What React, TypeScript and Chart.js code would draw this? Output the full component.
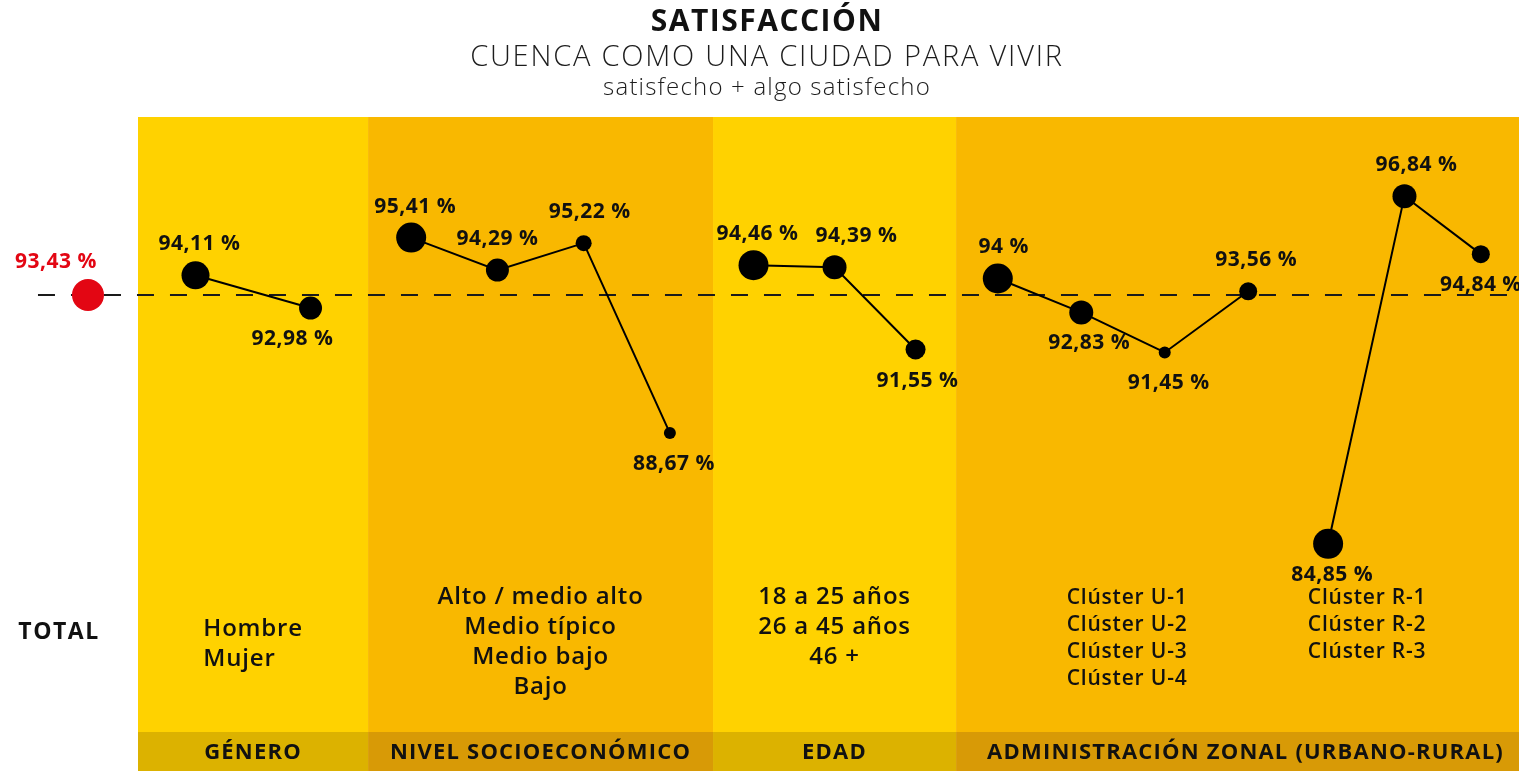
import React, { useEffect, useRef } from "react";
import { Chart, registerables } from "chart.js";

Chart.register(...registerables);

// ---------- DATA ----------
const TITLE = "SATISFACCIÓN";
const SUBTITLE = "CUENCA COMO UNA CIUDAD PARA VIVIR";
const SUBSUBTITLE = "satisfecho + algo satisfecho";

const TOTAL_LABEL = "TOTAL";
const TOTAL_VALUE = 93.43;

const GENERO_LABELS = ["Hombre", "Mujer"];
const GENERO_VALUES = [94.11, 92.98];

const NSE_LABELS = ["Alto / medio alto", "Medio típico", "Medio bajo", "Bajo"];
const NSE_VALUES = [95.41, 94.29, 95.22, 88.67];

const EDAD_LABELS = ["18 a 25 años", "26 a 45 años", "46 +"];
const EDAD_VALUES = [94.46, 94.39, 91.55];

const URBANO_LABELS = ["Clúster U-1", "Clúster U-2", "Clúster U-3", "Clúster U-4"];
const URBANO_VALUES = [94, 92.83, 91.45, 93.56];

const RURAL_LABELS = ["Clúster R-1", "Clúster R-2", "Clúster R-3"];
const RURAL_VALUES = [84.85, 96.84, 94.84];

const GROUP_TITLES = ["GÉNERO", "NIVEL SOCIOECONÓMICO", "EDAD", "ADMINISTRACIÓN ZONAL (URBANO-RURAL)"];

// ---------- STYLE / LAYOUT ----------
const W = 1519;
const H = 771;
const FONT = "'Open Sans', 'Noto Sans', sans-serif";
const BAND_LIGHT = "#FFD200";
const BAND_DARK = "#F9B800";
const FOOT_LIGHT = "#DCB200";
const FOOT_DARK = "#D89A06";
const RED = "#E30613";
const INK = "#111111";

// x-scale runs 0..100 (percent of the width)
const TOTAL_SPAN = [2.5, 9.085];
const GROUP_SPANS = [
  [9.085, 24.23],
  [24.23, 46.94],
  [46.94, 62.94],
  [62.94, 100],
];
const FOOT_COLORS = [FOOT_LIGHT, FOOT_DARK, FOOT_LIGHT, FOOT_DARK];
const BAND_COLORS = [BAND_LIGHT, BAND_DARK, BAND_LIGHT, BAND_DARK];

const fmt = (v: number) => String(v).replace(".", ",") + " %";

type Series = {
  values: number[];
  span: number[];
  radii: number[];
  pos: string[];
  dx: number[];
};

const SERIES: Series[] = [
  { values: GENERO_VALUES, span: [9.085, 24.23], radii: [14, 11.5], pos: ["top", "bottom"], dx: [4, -18] },
  { values: NSE_VALUES, span: [24.23, 46.94], radii: [15, 11.5, 8, 6], pos: ["top", "top", "top", "bottom"], dx: [4, 0, 6, 4] },
  { values: EDAD_VALUES, span: [46.94, 62.94], radii: [15, 12, 10], pos: ["top", "top", "bottom"], dx: [4, 22, 2] },
  { values: URBANO_VALUES, span: [62.94, 84.92], radii: [15, 12, 6, 9], pos: ["top", "bottom", "bottom", "top"], dx: [6, 8, 4, 8] },
  { values: RURAL_VALUES, span: [84.92, 100], radii: [15, 12, 9], pos: ["bottom", "top", "bottom"], dx: [4, 12, 0] },
];

const CATEGORY_BLOCKS = [
  { labels: GENERO_LABELS, center: 16.66, top: 629, gap: 30, size: 24, blockLeft: true },
  { labels: NSE_LABELS, center: 35.585, top: 597, gap: 30, size: 24, blockLeft: false },
  { labels: EDAD_LABELS, center: 54.94, top: 597, gap: 30, size: 24, blockLeft: false },
  { labels: URBANO_LABELS, center: 74.2, top: 598, gap: 27, size: 21, blockLeft: false },
  { labels: RURAL_LABELS, center: 90.0, top: 598, gap: 27, size: 21, blockLeft: false },
];

const spread = (values: number[], span: number[]) =>
  values.map((v, i) => ({ x: span[0] + ((span[1] - span[0]) * (i + 0.5)) / values.length, y: v }));

const setSpacing = (ctx: any, px: number) => {
  ctx.letterSpacing = `${px}px`;
};

const decorPlugin = {
  id: "decor",
  beforeDraw(chart: any) {
    const { ctx, chartArea, scales } = chart;
    const x = scales.x;
    const { top, bottom } = chartArea;
    ctx.save();
    ctx.fillStyle = "#ffffff";
    ctx.fillRect(0, 0, chart.width, chart.height);

    // bands
    GROUP_SPANS.forEach((s, i) => {
      const x0 = x.getPixelForValue(s[0]);
      const x1 = i === GROUP_SPANS.length - 1 ? chart.width : x.getPixelForValue(s[1]);
      ctx.fillStyle = BAND_COLORS[i];
      ctx.fillRect(x0, top, x1 - x0, bottom - top);
      ctx.fillStyle = FOOT_COLORS[i];
      ctx.fillRect(x0, bottom, x1 - x0, chart.height - bottom);
      ctx.fillStyle = INK;
      ctx.font = `700 22px ${FONT}`;
      setSpacing(ctx, 1.2);
      ctx.textAlign = "center";
      ctx.textBaseline = "middle";
      ctx.fillText(GROUP_TITLES[i], (x0 + x1) / 2 + (i === 3 ? 8 : 0), (bottom + chart.height) / 2 + 1);
    });

    // titles
    ctx.fillStyle = INK;
    ctx.textAlign = "center";
    ctx.textBaseline = "middle";
    ctx.font = `700 30px ${FONT}`;
    setSpacing(ctx, 1.5);
    ctx.fillText(TITLE, 767, 22);
    ctx.fillStyle = "#1c1c1c";
    ctx.font = `300 29px ${FONT}`;
    setSpacing(ctx, 1.8);
    ctx.fillText(SUBTITLE, 767, 58);
    ctx.font = `300 24px ${FONT}`;
    setSpacing(ctx, 1.2);
    ctx.fillText(SUBSUBTITLE, 767, 88);

    // category labels
    ctx.fillStyle = INK;
    CATEGORY_BLOCKS.forEach((b) => {
      ctx.font = `600 ${b.size}px ${FONT}`;
      setSpacing(ctx, 0.8);
      const cx = x.getPixelForValue(b.center);
      if (b.blockLeft) {
        const maxW = Math.max(...b.labels.map((l) => ctx.measureText(l).width));
        ctx.textAlign = "left";
        b.labels.forEach((l, i) => ctx.fillText(l, cx - maxW / 2, b.top + i * b.gap));
      } else {
        ctx.textAlign = "center";
        b.labels.forEach((l, i) => ctx.fillText(l, cx, b.top + i * b.gap));
      }
    });
    ctx.font = `700 23px ${FONT}`;
    setSpacing(ctx, 1.5);
    ctx.textAlign = "center";
    ctx.fillText(TOTAL_LABEL, 59, 632);
    setSpacing(ctx, 0);
    ctx.restore();
  },
  afterDatasetsDraw(chart: any) {
    const { ctx } = chart;
    ctx.save();
    ctx.textAlign = "center";
    ctx.textBaseline = "middle";
    setSpacing(ctx, 0.5);
    chart.data.datasets.forEach((ds: any, di: number) => {
      if (!ds._series) return;
      const s: Series = ds._series;
      const meta = chart.getDatasetMeta(di);
      meta.data.forEach((pt: any, i: number) => {
        ctx.fillStyle = INK;
        ctx.font = `700 21px ${FONT}`;
        const dy = s.pos[i] === "top" ? -31 : 31;
        ctx.fillText(fmt(s.values[i]), pt.x + s.dx[i], pt.y + dy);
      });
    });
    const tmeta = chart.getDatasetMeta(1);
    const tp = tmeta.data[0];
    ctx.fillStyle = RED;
    ctx.font = `700 21px ${FONT}`;
    ctx.fillText(fmt(TOTAL_VALUE), tp.x - 32, tp.y - 33);
    setSpacing(ctx, 0);
    ctx.restore();
  },
};

export default function App() {
  const ref = useRef<HTMLCanvasElement>(null);
  useEffect(() => {
    document.body.style.margin = "0";
    const canvas = ref.current;
    if (!canvas) return;
    const totalX = (TOTAL_SPAN[0] + TOTAL_SPAN[1]) / 2;
    const datasets: any[] = [
      {
        data: [
          { x: TOTAL_SPAN[0], y: TOTAL_VALUE },
          { x: 100, y: TOTAL_VALUE },
        ],
        borderColor: "#1a1a1a",
        borderWidth: 2,
        borderDash: [17, 16],
        pointRadius: 0,
        order: 5,
      },
      {
        data: [{ x: totalX, y: TOTAL_VALUE }],
        showLine: false,
        pointRadius: 16,
        pointBackgroundColor: RED,
        pointBorderWidth: 0,
        order: 1,
      },
      ...SERIES.map((s) => ({
        data: spread(s.values, s.span),
        _series: s,
        borderColor: "#000000",
        borderWidth: 2,
        pointRadius: s.radii,
        pointBackgroundColor: "#000000",
        pointBorderWidth: 0,
        order: 2,
      })),
    ];
    const chart = new Chart(canvas, {
      type: "line",
      data: { datasets },
      options: {
        responsive: false,
        animation: false,
        devicePixelRatio: 1,
        layout: { autoPadding: false, padding: { top: 117, bottom: 39, left: 0, right: 0 } },
        scales: {
          x: { type: "linear", min: 0, max: 100, display: false },
          y: { type: "linear", min: 78.36, max: 99.57, display: false },
        },
        plugins: { legend: { display: false }, tooltip: { enabled: false } },
        elements: { line: { tension: 0 } },
      },
      plugins: [decorPlugin],
    } as any);
    return () => chart.destroy();
  }, []);
  return (
    <div style={{ position: "fixed", left: 0, top: 0, width: W, height: H, overflow: "hidden", background: "#fff" }}>
      <canvas ref={ref} width={W} height={H} style={{ display: "block", width: W, height: H }} />
    </div>
  );
}
